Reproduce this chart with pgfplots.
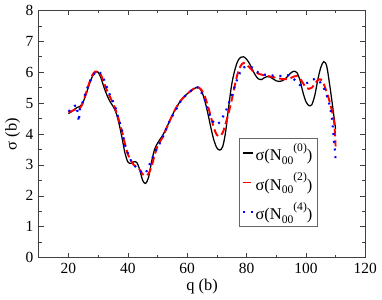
\documentclass[border=0pt]{standalone}
\usepackage{fontspec}
\setmainfont{Liberation Serif}
\usepackage{pgfplots}
\pgfplotsset{compat=1.18}
\newcommand{\lab}[1]{σ(N\raisebox{-0.5ex}{\fontsize{12}{13}\selectfont 00}\raisebox{1.25ex}{\fontsize{12}{13}\selectfont (#1)})}
\begin{document}
\fontsize{16}{19}\selectfont
\begin{tikzpicture}
\begin{axis}[
 scale only axis, width=338pt, height=256pt,
 xmin=10, xmax=120, ymin=0, ymax=8,
 xtick={20,40,...,120}, ytick={0,1,...,8},
 minor x tick num=1, minor y tick num=1,
 tick align=inside, major tick length=5pt, minor tick length=3pt,
 ticklabel style={font=\fontsize{16}{19}\selectfont},
 /pgf/number format/assume math mode=true,
 axis line style={black!75, line width=0.8pt},
 tick style={black!75, line width=0.6pt},
 xlabel={q (b)}, ylabel={σ (b)},
 label style={font=\fontsize{17}{20}\selectfont},
 xlabel style={yshift=5pt}, ylabel style={yshift=-5pt},
 legend style={at={(0.612,0.484)}, anchor=north west, draw=black!60, line width=0.8pt,
   font=\fontsize{17}{20}\selectfont, row sep=6pt, inner sep=3pt},
 legend cell align=left,
 legend image code/.code={\draw[#1] (0pt,0pt) -- (10pt,0pt);},
]
\addplot[black, line width=1.3pt, smooth] coordinates {
(20,4.66)(21,4.72)(22,4.80)(23,4.86)(24,4.90)(25,5.05)(26,5.30)(27,5.60)(28,5.85)(29,6.00)(30,6.00)
(31,5.80)(32,5.50)(33,5.25)(34,5.05)(35,4.90)(36,4.70)(37,4.35)(38,3.90)(39,3.40)(40,3.10)
(41,3.05)(42,3.10)(43,3.08)(44,2.85)(45,2.50)(46,2.40)(47,2.60)(48,3.10)(49,3.50)(50,3.70)
(51,3.85)(52,4.00)(54,4.40)(56,4.80)(58,5.10)(60,5.30)(62,5.45)(63,5.50)(64,5.50)(65,5.35)
(66,5.05)(67,4.65)(68,4.20)(69,3.80)(70,3.55)(71,3.48)(72,3.60)(73,4.10)(74,4.90)(75,5.60)
(76,6.05)(77,6.35)(78,6.48)(79,6.50)(80,6.42)(81,6.28)(82,6.08)(83,5.90)(84,5.78)(85,5.76)
(86,5.82)(87,5.86)(88,5.84)(89,5.78)(90,5.72)(91,5.70)(92,5.72)(93,5.78)(94,5.88)(95,5.98)
(96,6.03)(97,5.98)(98,5.75)(99,5.35)(100,5.05)(101,4.92)(102,4.95)(103,5.25)(104,5.75)(105,6.15)
(106,6.34)(107,6.20)(108,5.60)(109,4.90)(110,4.16)
};
\addlegendentry{\lab{0}}
\addplot[red, line width=2pt, dash pattern=on 8pt off 4pt, smooth] coordinates {
(20,4.70)(22,4.78)(24,4.85)(25,5.05)(26,5.35)(27,5.65)(28,5.90)(29,6.02)(30,6.02)
(31,5.90)(32,5.65)(33,5.40)(34,5.20)(35,5.00)(36,4.75)(37,4.45)(38,4.10)(39,3.70)(40,3.35)
(41,3.15)(42,3.00)(43,2.92)(44,2.85)(45,2.70)(46,2.65)(47,2.72)(48,2.95)(49,3.30)(50,3.60)
(52,3.95)(54,4.40)(56,4.80)(58,5.10)(60,5.30)(62,5.45)(63,5.52)(64,5.50)(65,5.40)(66,5.20)
(67,4.90)(68,4.55)(69,4.20)(70,3.97)(71,3.93)(72,4.05)(73,4.35)(74,4.70)(75,5.10)(76,5.55)
(77,5.95)(78,6.20)(79,6.30)(80,6.25)(81,6.15)(82,6.05)(84,5.95)(86,5.90)(88,5.86)(90,5.82)
(92,5.78)(94,5.78)(96,5.86)(97,5.88)(98,5.80)(99,5.65)(100,5.50)(101,5.46)(102,5.50)(103,5.62)
(104,5.74)(105,5.77)(106,5.62)(107,5.35)(108,5.05)(109,4.65)(109.6,4.30)(110,3.60)
};
\addlegendentry{\lab{2}}
\addplot[blue, line width=2.2pt, dash pattern=on 2pt off 6pt] coordinates {
(20,4.73)(21,4.80)(22,4.90)(22.7,4.94)(23.5,4.40)(23.8,4.80)(24.3,4.87)(25,5.10)(26,5.40)(27,5.65)(28,5.85)(29,6.00)(30,6.03)
(31,5.95)(32,5.75)(33,5.50)(34,5.25)(35,5.05)(36,4.80)(37,4.45)(38,4.15)(39,3.65)(40,3.38)
(41,3.15)(42,3.00)(43,2.90)(44,2.80)(45,2.75)(46,2.72)(47,2.95)(48,3.15)(49,3.40)(50,3.55)
(52,3.95)(54,4.40)(56,4.75)(58,5.10)(60,5.30)(62,5.45)(63,5.52)(64,5.50)(65,5.30)(66,5.09)
(67,4.78)(68,4.52)(69,4.36)(70,4.30)(71,4.38)(72,4.55)(73,4.73)(74,4.99)(75,5.25)(76,5.53)
(77,5.82)(78,6.03)(79,6.15)(80,6.19)(81,6.18)(82,6.15)(84,5.98)(86,5.92)(88,5.90)(90,5.88)
(92,5.88)(94,5.90)(96,5.77)(97,5.68)(98,5.58)(99,5.60)(100,5.64)(101,5.67)(102,5.73)(103,5.79)
(104,5.75)(105,5.65)(106,5.50)(107,5.25)(107.6,5.09)(108.2,4.83)(108.7,4.57)(109,4.28)(109.3,4.00)
(109.5,3.72)(109.8,3.45)(110,3.17)
};
\addlegendentry{\lab{4}}
\end{axis}
\end{tikzpicture}
\end{document}
